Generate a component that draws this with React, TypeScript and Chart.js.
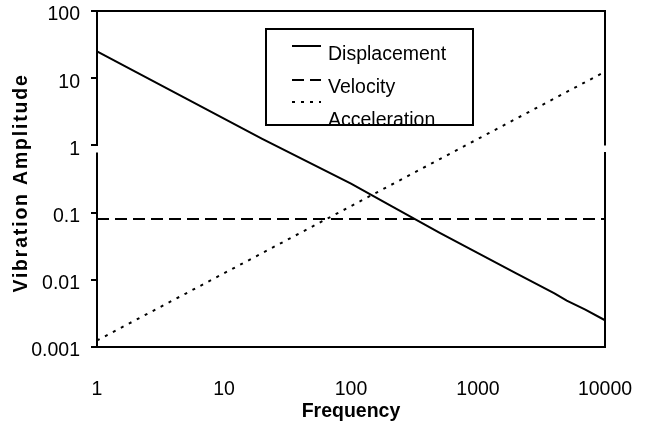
import React, { useEffect, useRef } from 'react';
import { Chart, registerables } from 'chart.js';

Chart.register(...registerables);

const frequencies = [1, 2, 5, 10, 20, 100, 200, 500, 1000, 2000, 4000, 5000, 7000, 10000];
const displacement = [25, 12.5, 5, 2.5, 1.25, 0.27, 0.13, 0.05, 0.025, 0.0125, 0.0063, 0.0049, 0.0036, 0.0025];
const velocity = [0.08, 0.08, 0.08, 0.08, 0.08, 0.08, 0.08, 0.08, 0.08, 0.08, 0.08, 0.08, 0.08, 0.08];
const acceleration = [0.00125, 0.0025, 0.00625, 0.0125, 0.025, 0.125, 0.25, 0.625, 1.25, 2.5, 5, 6.25, 8.75, 12.5];

const seriesLabels = ['Displacement', 'Velocity', 'Acceleration'];
const xTickValues = [1, 10, 100, 1000, 10000];
const xTickLabels = ['1', '10', '100', '1000', '10000'];
const yTickValues = [0.001, 0.01, 0.1, 1, 10, 100];
const yTickLabels = ['0.001', '0.01', '0.1', '1', '10', '100'];
const xTitle = 'Frequency';
const yTitle = 'Vibration Amplitude';
const frameBreakValue = 1;

const FONT = '"Liberation Sans", Arial, Helvetica, sans-serif';

export default function App() {
  const ref = useRef<HTMLCanvasElement | null>(null);

  useEffect(() => {
    document.body.style.margin = '0';
    const canvas = ref.current;
    if (!canvas) return;

    const framePlugin = {
      id: 'frame',
      afterDatasetsDraw(chart: any) {
        const { ctx, chartArea: a } = chart;
        const gy = chart.scales.y.getPixelForValue(frameBreakValue);
        ctx.save();
        ctx.strokeStyle = '#000';
        ctx.lineWidth = 2;
        ctx.lineCap = 'butt';
        ctx.beginPath();
        ctx.moveTo(a.left - 1, a.top);
        ctx.lineTo(a.right + 1, a.top);
        ctx.moveTo(a.left - 1, a.bottom);
        ctx.lineTo(a.right + 1, a.bottom);
        ctx.moveTo(a.left, a.top);
        ctx.lineTo(a.left, gy + 0.7);
        ctx.moveTo(a.left, gy + 7);
        ctx.lineTo(a.left, a.bottom);
        ctx.moveTo(a.right, a.top);
        ctx.lineTo(a.right, gy);
        ctx.moveTo(a.right, gy + 6.5);
        ctx.lineTo(a.right, a.bottom);
        ctx.stroke();
        ctx.restore();
      },
    };

    const legendPlugin = {
      id: 'boxLegend',
      afterDraw(chart: any) {
        const { ctx } = chart;
        const box = { left: 266, top: 29, right: 473, bottom: 125 };
        const sampleX1 = 292;
        const sampleX2 = 321;
        const textX = 328;
        const lineY = [46, 80, 102];
        const textY = [60, 93, 126];
        ctx.save();
        ctx.fillStyle = '#fff';
        ctx.fillRect(box.left, box.top, box.right - box.left, box.bottom - box.top);
        chart.data.datasets.forEach((ds: any, i: number) => {
          ctx.save();
          ctx.strokeStyle = ds.borderColor;
          ctx.lineWidth = ds.borderWidth;
          ctx.setLineDash(ds.borderDash || []);
          ctx.beginPath();
          ctx.moveTo(sampleX1, lineY[i]);
          ctx.lineTo(sampleX2, lineY[i]);
          ctx.stroke();
          ctx.restore();
          ctx.fillStyle = '#000';
          ctx.font = `19.5px ${FONT}`;
          ctx.textAlign = 'left';
          ctx.textBaseline = 'alphabetic';
          ctx.fillText(ds.label, textX, textY[i]);
        });
        ctx.strokeStyle = '#000';
        ctx.lineWidth = 2;
        ctx.strokeRect(box.left, box.top, box.right - box.left, box.bottom - box.top);
        ctx.restore();
      },
    };

    const yTitlePlugin = {
      id: 'yTitle',
      afterDraw(chart: any) {
        const { ctx } = chart;
        ctx.save();
        ctx.translate(22, 183);
        ctx.rotate(-Math.PI / 2);
        ctx.fillStyle = '#000';
        ctx.font = `bold 19.5px ${FONT}`;
        ctx.textAlign = 'center';
        ctx.textBaseline = 'middle';
        try {
          (ctx as any).letterSpacing = '1.8px';
        } catch (e) {}
        ctx.fillText(yTitle, 0, 0);
        ctx.restore();
      },
    };

    const mk = (vals: number[]) => frequencies.map((f, i) => ({ x: f, y: vals[i] }));

    const chart = new Chart(canvas, {
      type: 'line',
      data: {
        datasets: [
          {
            label: seriesLabels[0],
            data: mk(displacement),
            borderColor: '#000',
            borderWidth: 2,
            borderDash: [],
            pointRadius: 0,
            tension: 0,
          },
          {
            label: seriesLabels[1],
            data: mk(velocity),
            borderColor: '#000',
            borderWidth: 2,
            borderDash: [12, 6],
            pointRadius: 0,
            tension: 0,
          },
          {
            label: seriesLabels[2],
            data: mk(acceleration),
            borderColor: '#000',
            borderWidth: 2,
            borderDash: [3, 6],
            pointRadius: 0,
            tension: 0,
          },
        ],
      } as any,
      options: {
        animation: false,
        responsive: false,
        events: [],
        layout: { padding: { top: 11, right: 42, bottom: 0, left: 0 } },
        plugins: {
          legend: { display: false },
          tooltip: { enabled: false },
        },
        scales: {
          x: {
            type: 'logarithmic',
            min: 1,
            max: 10000,
            afterBuildTicks: (s: any) => {
              s.ticks = xTickValues.map((v) => ({ value: v }));
            },
            afterFit: (s: any) => {
              s.height = 79;
              s.paddingLeft = 0;
              s.paddingRight = 0;
            },
            grid: { display: false },
            border: { display: false },
            ticks: {
              autoSkip: false,
              maxRotation: 0,
              minRotation: 0,
              padding: 23,
              color: '#000',
              font: { family: FONT, size: 19.5 },
              callback: (_v: any, i: number) => xTickLabels[i],
            },
            title: {
              display: true,
              text: xTitle,
              color: '#000',
              font: { family: FONT, size: 19.5, weight: 'bold' },
              padding: { top: 0, bottom: 3 },
            },
          },
          y: {
            type: 'logarithmic',
            min: 0.001,
            max: 100,
            afterBuildTicks: (s: any) => {
              s.ticks = yTickValues.map((v) => ({ value: v }));
            },
            afterFit: (s: any) => {
              s.width = 97;
              s.paddingTop = 0;
              s.paddingBottom = 0;
            },
            grid: {
              drawOnChartArea: false,
              drawTicks: true,
              tickLength: 6,
              lineWidth: 2,
              color: '#000',
            },
            border: { display: false },
            ticks: {
              autoSkip: false,
              padding: 11,
              labelOffset: 4,
              color: '#000',
              font: { family: FONT, size: 19.5 },
              callback: (_v: any, i: number) => yTickLabels[i],
            },
          },
        },
      } as any,
      plugins: [framePlugin, legendPlugin, yTitlePlugin],
    });

    return () => {
      chart.destroy();
    };
  }, []);

  return (
    <div style={{ width: 647, height: 426, position: 'relative' }}>
      <canvas ref={ref} width={647} height={426} style={{ display: 'block' }} />
    </div>
  );
}
